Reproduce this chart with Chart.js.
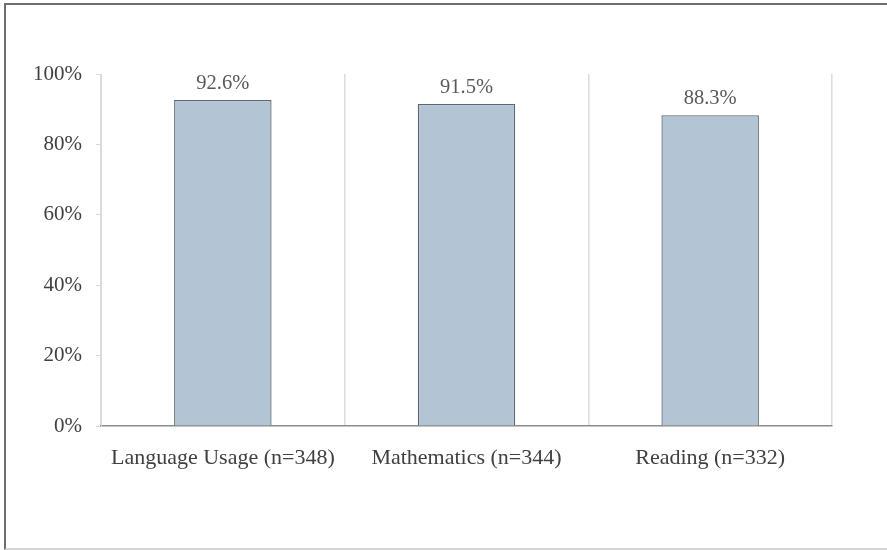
<!DOCTYPE html>
<html>
<head>
<meta charset="utf-8">
<script src="https://cdn.jsdelivr.net/npm/chart.js@4"></script>
<style>
  html, body { margin: 0; padding: 0; background: #fff; }
  #wrap { position: absolute; left: 0; top: 0; width: 887px; height: 550px; }
  #frame { position: absolute; left: 4px; top: 3px; width: 900px; height: 543px;
           border-top: 2px solid #6e6e6e; border-left: 2px solid #6e6e6e; border-bottom: 2px solid #d4d4d4;
           pointer-events: none; }
</style>
</head>
<body>
<div id="wrap"><canvas id="c" width="887" height="550"></canvas></div>
<div id="frame"></div>
<script>
const categories = ['Language Usage (n=348)', 'Mathematics (n=344)', 'Reading (n=332)'];
const values = [92.6, 91.5, 88.3];
const yTickValues = [0, 20, 40, 60, 80, 100];

const FONT = '"Liberation Serif", "DejaVu Serif", serif';

const barLabels = {
  id: 'barLabels',
  afterDatasetsDraw(chart) {
    const ctx = chart.ctx;
    const meta = chart.getDatasetMeta(0);
    ctx.save();
    ctx.font = '20.5px ' + FONT;
    ctx.fillStyle = '#595959';
    ctx.textAlign = 'center';
    ctx.textBaseline = 'bottom';
    meta.data.forEach((bar, i) => {
      ctx.fillText(values[i].toFixed(1) + '%', bar.x, bar.y - 6);
    });
    ctx.restore();
  }
};

new Chart(document.getElementById('c'), {
  type: 'bar',
  data: {
    labels: categories,
    datasets: [{
      data: values,
      backgroundColor: '#b3c5d5',
      borderColor: '#5d6770',
      borderWidth: 1.3,
      barPercentage: 0.4,
      categoryPercentage: 1.0
    }]
  },
  options: {
    responsive: false,
    animation: false,
    devicePixelRatio: 1,
    layout: { padding: { left: 0, right: 55, top: 74, bottom: 0 } },
    plugins: { legend: { display: false }, tooltip: { enabled: false } },
    scales: {
      x: {
        grid: { display: true, offset: true, color: '#dcdcdc', lineWidth: 1.5, drawTicks: false, drawOnChartArea: true },
        border: { display: true, color: '#8c8c8c', width: 1.5 },
        ticks: { color: '#404040', font: { family: FONT, size: 22 }, padding: 19, maxRotation: 0 },
        afterFit(scale) { scale.height = 124; }
      },
      y: {
        min: 0, max: 100,
        afterBuildTicks(scale) { scale.ticks = yTickValues.map(v => ({ value: v })); },
        grid: { drawOnChartArea: false, drawTicks: true, tickLength: 5, color: '#d9d9d9' },
        border: { display: true, color: '#d9d9d9', width: 1 },
        ticks: { color: '#404040', font: { family: FONT, size: 21 }, padding: 14,
                 callback: v => v + '%' },
        afterFit(scale) { scale.width = 101; }
      }
    }
  },
  plugins: [barLabels]
});
</script>
</body>
</html>
